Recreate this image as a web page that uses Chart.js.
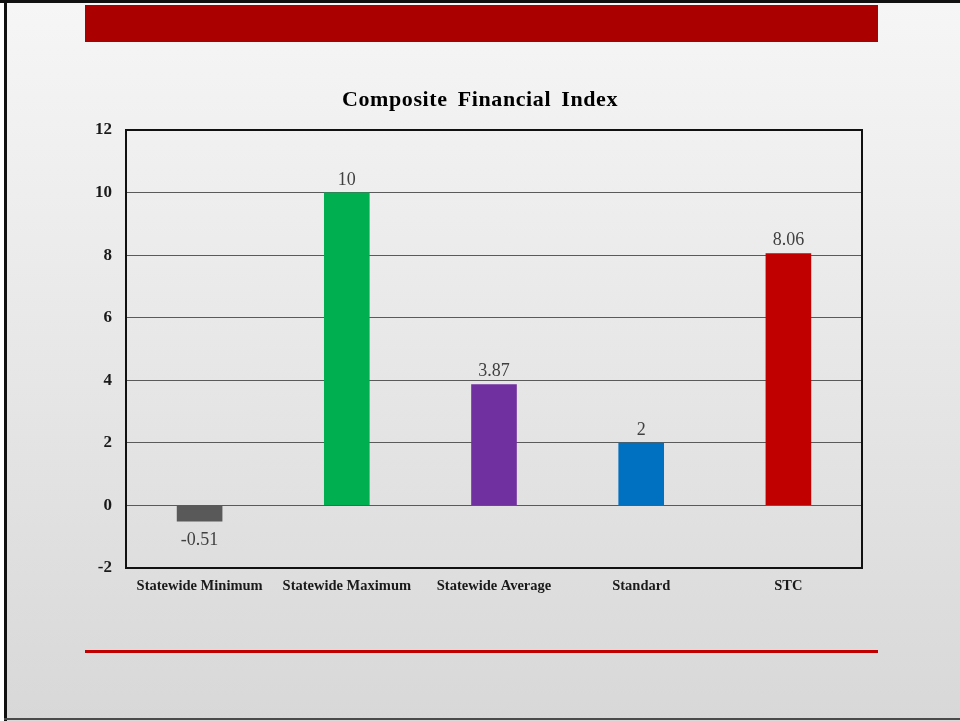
<!DOCTYPE html>
<html>
<head>
<meta charset="utf-8">
<script src="https://cdn.jsdelivr.net/npm/chart.js@4/dist/chart.umd.min.js"></script>
<style>
  html, body { margin: 0; padding: 0; background: #fff; }
  #slide {
    position: relative;
    width: 960px;
    height: 721px;
    overflow: hidden;
    background: linear-gradient(#f6f6f6 0%, #eaeaea 40%, #d8d8d8 100%);
  }
  #frameTop { position: absolute; left: 0; top: 0; width: 960px; height: 3px; background: #111; }
  #frameLeft { position: absolute; left: 4px; top: 0; width: 3px; height: 721px; background: #111; }
  #frameBottom { position: absolute; left: 4px; top: 718px; width: 956px; height: 2px; background: #4a4a4a; }
  #whiteLeft { position: absolute; left: 0; top: 3px; width: 4px; height: 718px; background: #fff; }
  #banner { position: absolute; left: 85px; top: 5px; width: 793px; height: 37px; background: #aa0000; }
  #rule { position: absolute; left: 85px; top: 650px; width: 793px; height: 3px; background: #c00000; }
  #chartBox { position: absolute; left: 0; top: 0; width: 960px; height: 721px; }
</style>
</head>
<body>
<div id="slide">
  <div id="banner"></div>
  <div id="rule"></div>
  <div id="chartBox"><canvas id="cfi"></canvas></div>
  <div id="whiteLeft"></div>
  <div id="frameTop"></div>
  <div id="frameLeft"></div>
  <div id="frameBottom"></div>
</div>
<script>
const chartTitle = "Composite Financial Index";
const categories = ["Statewide Minimum", "Statewide Maximum", "Statewide Average", "Standard", "STC"];
const indexValues = [-0.51, 10, 3.87, 2, 8.06];
const barColors = ["#595959", "#00b050", "#7030a0", "#0070c0", "#c00000"];
const yTicks = [-2, 0, 2, 4, 6, 8, 10, 12];

const serif = "'Liberation Serif', 'Times New Roman', serif";

// title, drawn by hand so the wide slide lettering can be kept
const wideTitle = {
  id: "wideTitle",
  afterDraw(chart) {
    const { ctx } = chart;
    ctx.save();
    ctx.font = "bold 22px " + serif;
    ctx.fillStyle = "#000";
    ctx.textAlign = "center";
    ctx.textBaseline = "alphabetic";
    ctx.letterSpacing = "0.6px";
    ctx.wordSpacing = "4px";
    ctx.fillText(chartTitle, chart.width / 2, 106);
    ctx.restore();
  }
};

// frame around the plot area
const plotBorder = {
  id: "plotBorder",
  afterDraw(chart) {
    const { ctx, chartArea: a } = chart;
    ctx.save();
    ctx.strokeStyle = "#111";
    ctx.lineWidth = 2;
    ctx.strokeRect(a.left, a.top, a.right - a.left, a.bottom - a.top);
    ctx.restore();
  }
};

// value labels at the end of each bar
const barValues = {
  id: "barValues",
  afterDatasetsDraw(chart) {
    const { ctx } = chart;
    const meta = chart.getDatasetMeta(0);
    ctx.save();
    ctx.font = "18px " + serif;
    ctx.fillStyle = "#404040";
    ctx.textAlign = "center";
    ctx.textBaseline = "alphabetic";
    meta.data.forEach((bar, i) => {
      const v = indexValues[i];
      const y = v >= 0 ? bar.y - 8 : bar.y + 24;
      ctx.fillText(String(v), bar.x, y);
    });
    ctx.restore();
  }
};

new Chart(document.getElementById("cfi"), {
  type: "bar",
  data: {
    labels: categories,
    datasets: [{
      data: indexValues,
      backgroundColor: barColors,
      borderWidth: 0,
      categoryPercentage: 1,
      barPercentage: 0.31
    }]
  },
  options: {
    responsive: true,
    maintainAspectRatio: false,
    animation: false,
    layout: { padding: { left: 85, right: 98, top: 130, bottom: 123 } },
    plugins: {
      legend: { display: false },
      tooltip: { enabled: false },
      title: { display: false }
    },
    scales: {
      x: {
        grid: { display: false, drawTicks: false },
        border: { display: false },
        ticks: {
          color: "#1a1a1a",
          padding: 10,
          font: { family: serif, size: 14.5, weight: "bold" }
        },
        afterFit(scale) { scale.height = 30; }
      },
      y: {
        min: -2,
        max: 12,
        afterBuildTicks(scale) { scale.ticks = yTicks.map(v => ({ value: v })); },
        grid: { color: "#5a5a5a", lineWidth: 1, drawTicks: false },
        border: { display: false },
        ticks: {
          color: "#1a1a1a",
          padding: 14,
          font: { family: serif, size: 17, weight: "bold" }
        },
        afterFit(scale) { scale.width = 41; }
      }
    }
  },
  plugins: [plotBorder, barValues, wideTitle]
});
</script>
</body>
</html>
